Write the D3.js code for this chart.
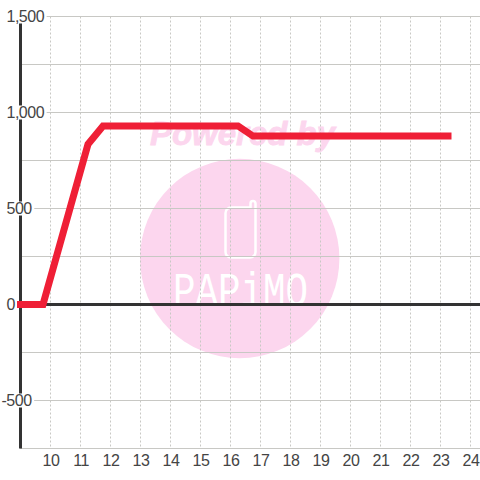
<!DOCTYPE html>
<html>
<head>
<meta charset="utf-8">
<script src="https://cdn.jsdelivr.net/npm/d3@7"></script>
<style>
    html, body { margin: 0; padding: 0; background: #fff; }
    svg { display: block; }
    text { font-family: "Liberation Sans", sans-serif; }
</style>
</head>
<body>
<div id="chart"></div>
<script>
// values
const hours = [9, 9.75, 11.25, 11.75, 16.25, 16.75, 23.25];
const values = [0, 0, 835, 930, 930, 877, 877];
const xTicks = [10, 11, 12, 13, 14, 15, 16, 17, 18, 19, 20, 21, 22, 23, 24];
const yGrid = [-750, -500, -250, 0, 250, 500, 750, 1000, 1250, 1500];
const yLabels = [-500, 0, 500, 1000, 1500];

const width = 480, height = 480;

const x = d3.scaleLinear().domain([9, 24]).range([20.5, 470.5]);
const y = d3.scaleLinear().domain([-750, 1500]).range([448.5, 16.5]);

const svg = d3.select("#chart").append("svg")
    .attr("width", width)
    .attr("height", height);

// watermark
const mark = svg.append("g");

mark.append("text")
    .attr("x", 242.5)
    .attr("y", 145)
    .attr("text-anchor", "middle")
    .attr("font-size", 33)
    .attr("font-weight", "bold")
    .attr("font-style", "italic")
    .attr("fill", "#fcd6ee")
    .attr("stroke", "#fcd6ee")
    .attr("stroke-width", 0.8)
    .text("Powered by");

mark.append("circle")
    .attr("cx", 239.7)
    .attr("cy", 258.5)
    .attr("r", 99.7)
    .attr("fill", "#fcd6ee");

mark.append("path")
    .attr("d", "M231,207.5 H250.5 V203.5 a2.5,2.5 0 0 1 5,0 V252 a5.5,5.5 0 0 1 -5.5,5.5 H231 a5.5,5.5 0 0 1 -5.5,-5.5 V213 a5.5,5.5 0 0 1 5.5,-5.5 Z")
    .attr("fill", "none")
    .attr("stroke", "#fff")
    .attr("stroke-width", 2.5);

mark.append("text")
    .attr("x", 173)
    .attr("y", 306)
    .attr("font-size", 48)
    .attr("fill", "#fff")
    .style("font-family", "'Liberation Mono', monospace")
    .attr("textLength", 135)
    .attr("lengthAdjust", "spacingAndGlyphs")
    .text("PAPiMO");

// grid
svg.append("g").selectAll("line")
    .data(yGrid)
    .join("line")
    .attr("x1", 20)
    .attr("x2", width)
    .attr("y1", d => y(d))
    .attr("y2", d => y(d))
    .attr("stroke", "#c8c8c4")
    .attr("stroke-width", 1);

svg.append("g").selectAll("line")
    .data(xTicks)
    .join("line")
    .attr("x1", d => x(d))
    .attr("x2", d => x(d))
    .attr("y1", y(1500))
    .attr("y2", y(-750))
    .attr("stroke", "#c8c8c4")
    .attr("stroke-dasharray", "2,2");

// main axes
svg.append("line")
    .attr("x1", x(9))
    .attr("x2", x(9))
    .attr("y1", y(1500))
    .attr("y2", y(-750))
    .attr("stroke", "#333")
    .attr("stroke-width", 3);

svg.append("line")
    .attr("x1", x(9))
    .attr("x2", width)
    .attr("y1", y(0))
    .attr("y2", y(0))
    .attr("stroke", "#333")
    .attr("stroke-width", 3);

// white boxes sit behind the y labels and cut the axis
const yBoxes = svg.append("g");

const yText = svg.append("g").selectAll("text")
    .data(yLabels)
    .join("text")
    .attr("x", d => d < 0 ? 1.5 : 6.5)
    .attr("y", d => y(d) + 5.5)
    .attr("font-size", 16)
    .attr("letter-spacing", "-0.5px")
    .attr("fill", "#444")
    .text(d => d3.format(",")(d).replace("\u2212", "-"));

yText.each(function() {
    const b = this.getBBox();
    yBoxes.append("rect")
        .attr("x", b.x)
        .attr("y", b.y + b.height / 2 - 7)
        .attr("width", b.width + 2)
        .attr("height", 14)
        .attr("fill", "#fff");
});

// series
const line = d3.line().x((d, i) => x(hours[i])).y(d => y(d));

svg.append("path")
    .attr("d", line(values))
    .attr("fill", "none")
    .attr("stroke", "#ef1f36")
    .attr("stroke-width", 7)
    .attr("stroke-linecap", "square");

svg.append("g").selectAll("text")
    .data(xTicks)
    .join("text")
    .attr("x", d => x(d) + 0.5)
    .attr("y", 466)
    .attr("text-anchor", "middle")
    .attr("font-size", 16)
    .attr("letter-spacing", "-0.5px")
    .attr("fill", "#444")
    .text(d => d);
</script>
</body>
</html>
